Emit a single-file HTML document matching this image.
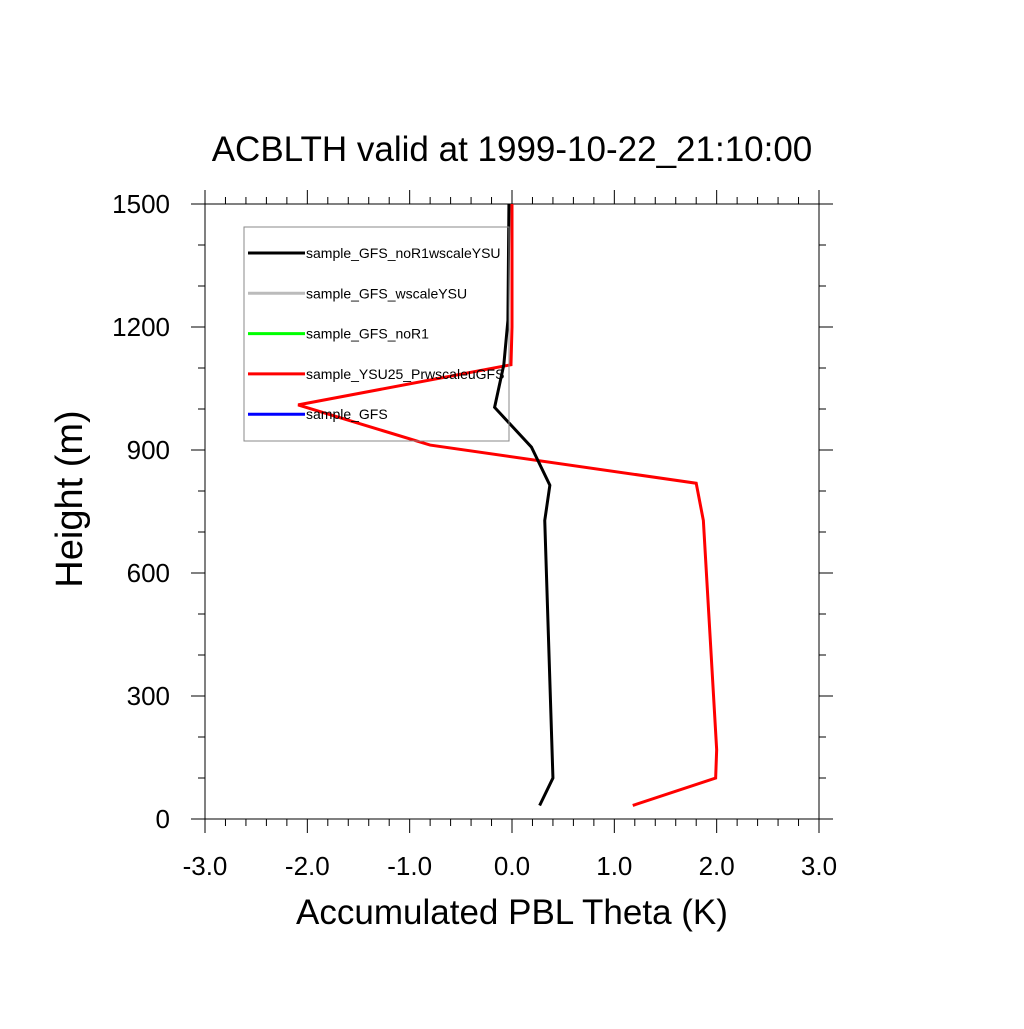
<!DOCTYPE html>
<html><head><meta charset="utf-8"><style>
body{margin:0;background:#fff}
svg text{font-family:"Liberation Sans",sans-serif}
</style></head><body>
<svg id="chart" width="1024" height="1024" xmlns="http://www.w3.org/2000/svg">
<rect width="1024" height="1024" fill="#fff"/>
<text x="512" y="161" font-size="35" text-anchor="middle">ACBLTH valid at 1999-10-22_21:10:00</text>
<text x="512" y="924" font-size="35" text-anchor="middle">Accumulated PBL Theta (K)</text>
<text transform="translate(82,499) rotate(-90)" font-size="38" text-anchor="middle">Height (m)</text>
<g id="axes"></g>
<g id="series"></g>
<g id="legend"></g>
</svg>
<script>
const heights = [33, 100, 169, 728, 819, 912, 1010, 1108, 1200, 1500];
const redValues = [1.18, 1.99, 2.0, 1.87, 1.80, -0.80, -2.09, -0.01, 0.0, 0.0];
const blackHeights = [33, 100, 728, 814, 907, 1004, 1108, 1216, 1500];
const blackValues = [0.27, 0.40, 0.32, 0.37, 0.19, -0.17, -0.08, -0.04, -0.03];
const xTicks = [-3, -2, -1, 0, 1, 2, 3];
const xTickLabels = ["-3.0", "-2.0", "-1.0", "0.0", "1.0", "2.0", "3.0"];
const yTicks = [0, 300, 600, 900, 1200, 1500];
const legendLabels = ["sample_GFS_noR1wscaleYSU", "sample_GFS_wscaleYSU", "sample_GFS_noR1", "sample_YSU25_PrwscaleuGFS", "sample_GFS"];
const legendColors = ["#000", "#bbb", "#0f0", "#f00", "#00f"];

const X0=205,X1=819,Y0=819,Y1=204;
const xs=v=>X0+(v+3)/6*(X1-X0);
const ys=v=>Y0-v/1500*(Y0-Y1);
const NS="http://www.w3.org/2000/svg";
function mk(tag,attrs,parent){const e=document.createElementNS(NS,tag);for(const k in attrs)e.setAttribute(k,attrs[k]);parent.appendChild(e);return e;}
const axes=document.getElementById('axes');
const frame=mk('rect',{x:X0,y:Y1,width:X1-X0,height:Y0-Y1,fill:'none',stroke:'#000','stroke-width':1},axes);


for(let v=-3;v<=3.0001;v+=0.2){
  const major=Math.abs(v-Math.round(v))<1e-6;const L=major?14:7;const x=xs(v);
  const t1=mk('line',{x1:x,x2:x,y1:Y0,y2:Y0+L,stroke:'#000'},axes);
  
  
  const t2=mk('line',{x1:x,x2:x,y1:Y1,y2:Y1-L,stroke:'#000'},axes);
  
  
}
for(let v=0;v<=1500;v+=100){
  const major=v%300===0;const L=major?14:7;const y=ys(v);
  const t1=mk('line',{x1:X0-L,x2:X0,y1:y,y2:y,stroke:'#000'},axes);
  
  
  const t2=mk('line',{x1:X1,x2:X1+L,y1:y,y2:y,stroke:'#000'},axes);
  
  
}
xTicks.forEach((v,i)=>{
  const t=mk('text',{x:xs(v),y:875,'font-size':26,'text-anchor':'middle'},axes);t.textContent=xTickLabels[i];
  
  
});
yTicks.forEach(v=>{
  const t=mk('text',{x:170,y:ys(v)+9,'font-size':26,'text-anchor':'end'},axes);t.textContent=String(v);
  
  
});
const series=document.getElementById('series');
const red=mk('polyline',{points:heights.map((h,i)=>xs(redValues[i])+','+ys(h)).join(' '),fill:'none',stroke:'#f00','stroke-width':3},series);


const blk=mk('polyline',{points:blackHeights.map((h,i)=>xs(blackValues[i])+','+ys(h)).join(' '),fill:'none',stroke:'#000','stroke-width':3},series);


const lg=document.getElementById('legend');
const box=mk('rect',{x:244,y:227,width:265,height:214,fill:'none',stroke:'#888','stroke-width':1},lg);


legendLabels.forEach((lab,i)=>{
  const y=253+i*40.3;
  const l=mk('line',{x1:248,x2:305,y1:y,y2:y,stroke:legendColors[i],'stroke-width':3},lg);
  
  
  const t=mk('text',{x:306,y:y+5,'font-size':14},lg);t.textContent=lab;
  
  
});
</script>
</body></html>
